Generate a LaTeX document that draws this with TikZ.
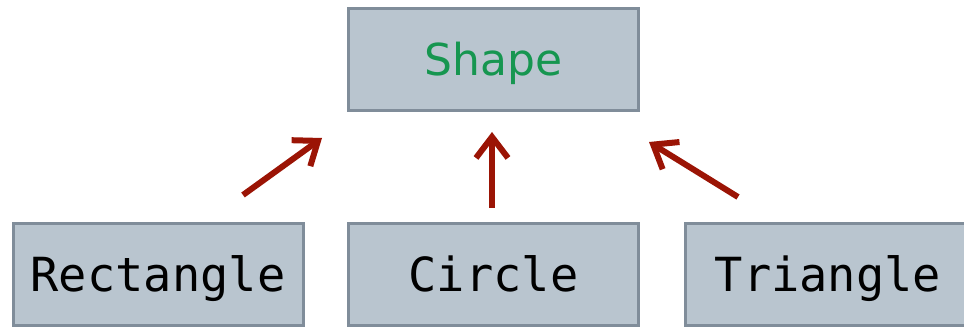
\documentclass[tikz,border=0pt]{standalone}
\usepackage{fontspec}
\newfontfamily\classfont{DejaVu Sans}
\newfontfamily\codefont{DejaVu Sans Mono}
\usetikzlibrary{arrows.meta}
\definecolor{boxfill}{RGB}{185,197,207}
\definecolor{boxline}{RGB}{128,141,154}
\definecolor{namegreen}{RGB}{22,150,80}
\definecolor{arrowred}{RGB}{155,20,5}

\begin{document}
\begin{tikzpicture}[x=1pt,y=1pt]
                          \tikzstyle{every node}+=[inner sep=0pt]
                          \tikzstyle{classbox}=[draw=boxline, fill=boxfill, line width=3pt, minimum width=290pt, minimum height=102pt]
                          \tikzstyle{basename}=[classbox, text=namegreen, font=\classfont\fontsize{44}{44}\selectfont, text height=32pt, text depth=0pt]
                          \tikzstyle{subname}=[classbox, text=black, font=\codefont\fontsize{47}{47}\selectfont, text height=34pt, text depth=0pt]
                          \tikzstyle{inherits}=[draw=arrowred, line width=6pt, -{Straight Barb[length=21pt,width=32pt]}]
                          \useasboundingbox (0,0) rectangle (964,-328);
                          \node [basename] (shape) at (493.5,-59.5) {Shape};
                          \node [subname] (rect) at (158,-274.5) {Rectangle};
                          \node [subname] (circ) at (493.5,-274.5) {Circle};
                          \node [subname, minimum width=285pt] (tri) at (828,-274.5) {Triangle};
                          \coordinate (rect-tail) at (243,-195);
                          \coordinate (rect-head) at (322,-138);
                          \coordinate (circ-tail) at (492,-208);
                          \coordinate (circ-head) at (492,-132);
                          \coordinate (tri-tail) at (738,-197);
                          \coordinate (tri-head) at (649,-142);
                          \draw [inherits] (rect-tail) -- (rect-head);
                          \draw [inherits] (circ-tail) -- (circ-head);
                          \draw [inherits] (tri-tail) -- (tri-head);
                      \end{tikzpicture}
\end{document}
